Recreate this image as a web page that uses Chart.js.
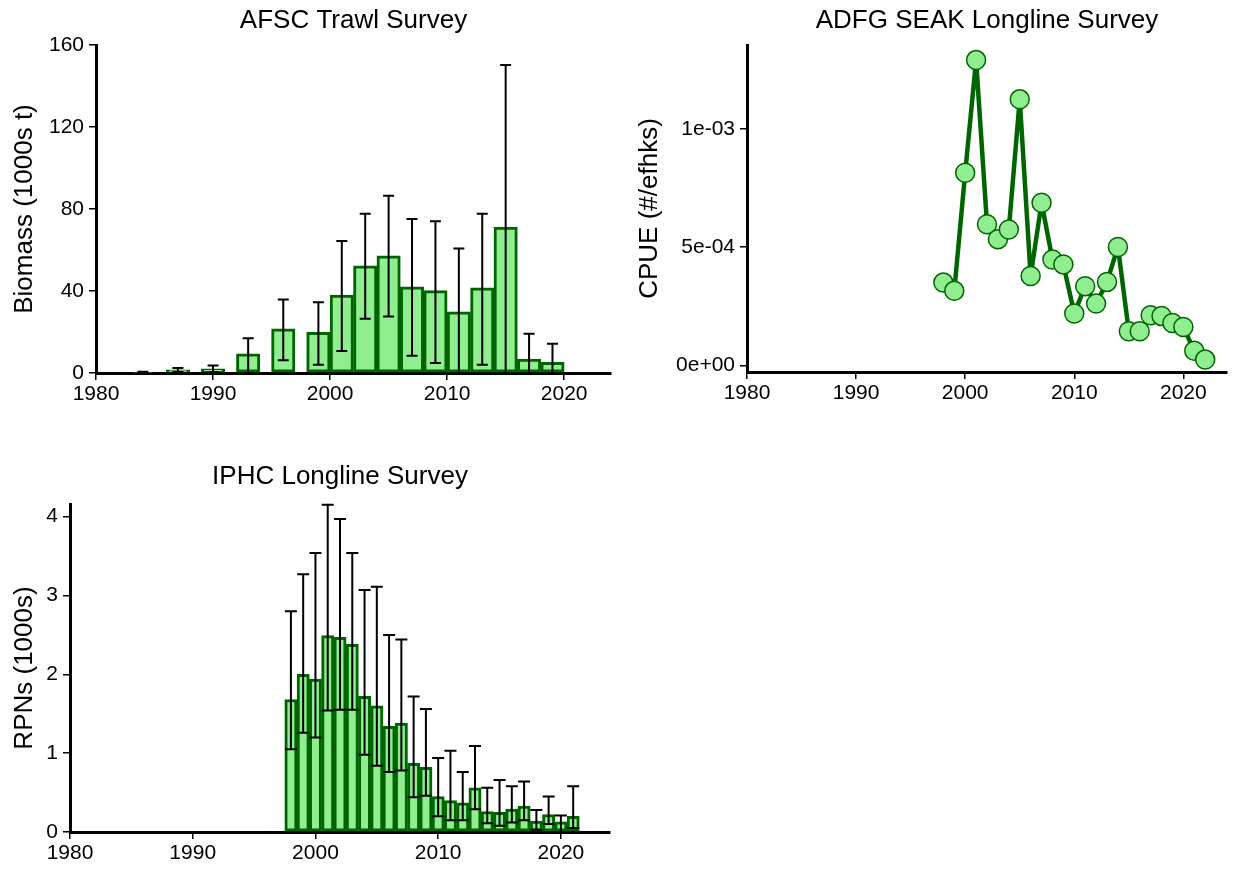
<!DOCTYPE html>
<html>
<head>
<meta charset="utf-8">
<script src="https://cdn.jsdelivr.net/npm/chart.js@4.4.0/dist/chart.umd.min.js"></script>
<style>
  html, body { margin: 0; padding: 0; background: #fff; }
  body { width: 1238px; height: 869px; position: relative; overflow: hidden; }
  canvas { position: absolute; }
</style>
</head>
<body>
<canvas id="afsc" width="625" height="420" style="left:0;top:0"></canvas>
<canvas id="adfg" width="613" height="420" style="left:625px;top:0"></canvas>
<canvas id="iphc" width="625" height="429" style="left:0;top:440px"></canvas>
<script>
// AFSC trawl survey biomass (1000s t) with error bar ends
const afscYears = [1984, 1987, 1990, 1993, 1996, 1999, 2001, 2003, 2005, 2007, 2009, 2011, 2013, 2015, 2017, 2019];
const afscBiomass = [0.5, 1.5, 2.0, 9.3, 21.5, 19.9, 38.0, 52.3, 57.2, 42.0, 40.2, 29.9, 41.5, 71.2, 6.8, 5.2];
const afscUpper = [0.6, 2.5, 3.7, 17.0, 35.9, 34.5, 64.4, 77.7, 86.5, 75.1, 74.0, 60.7, 77.7, 150.2, 19.2, 14.3];
const afscLower = [0.4, 0.5, 0.3, -2.0, 6.2, 4.0, 10.7, 26.5, 27.6, 8.4, 4.9, -1.0, 4.0, -8.0, -5.0, -4.0];

// ADFG SEAK longline CPUE
const adfgYears = [1998, 1999, 2000, 2001, 2002, 2003, 2004, 2005, 2006, 2007, 2008, 2009, 2010,
  2011, 2012, 2013, 2014, 2015, 2016, 2017, 2018, 2019, 2020, 2021, 2022];
const adfgCpue = [3.50e-4, 3.15e-4, 8.15e-4, 1.292e-3, 5.97e-4, 5.34e-4, 5.75e-4, 1.126e-3, 3.78e-4,
  6.88e-4, 4.48e-4, 4.27e-4, 2.19e-4, 3.35e-4, 2.61e-4, 3.53e-4, 5.01e-4, 1.44e-4, 1.44e-4,
  2.12e-4, 2.09e-4, 1.79e-4, 1.62e-4, 0.61e-4, 0.24e-4];
const adfgTicks = [0, 5e-4, 1e-3];
const adfgTickLabels = ["0e+00", "5e-04", "1e-03"];

// IPHC longline RPNs (1000s)
const iphcYears = [1998, 1999, 2000, 2001, 2002, 2003, 2004, 2005, 2006, 2007, 2008, 2009,
  2010, 2011, 2012, 2013, 2014, 2015, 2016, 2017, 2018, 2019, 2020, 2021];
const iphcRpn = [1.68, 2.00, 1.94, 2.49, 2.47, 2.38, 1.72, 1.60, 1.34, 1.38, 0.87, 0.82,
  0.45, 0.40, 0.37, 0.56, 0.26, 0.25, 0.29, 0.33, 0.14, 0.22, 0.13, 0.20];
const iphcUpper = [2.80, 3.27, 3.54, 4.15, 3.97, 3.54, 3.07, 3.11, 2.50, 2.44, 1.72, 1.56,
  0.94, 1.03, 0.76, 1.09, 0.56, 0.66, 0.58, 0.64, 0.28, 0.45, 0.21, 0.58];
const iphcLower = [1.05, 1.26, 1.20, 1.54, 1.55, 1.55, 0.98, 0.84, 0.76, 0.78, 0.44, 0.46,
  0.20, 0.15, 0.15, 0.29, 0.11, 0.08, 0.12, 0.15, 0.03, 0.10, -0.07, 0.05];

const FONT = "'Liberation Sans', Arial, Helvetica, sans-serif";
const FILL = "#90EE90";
const EDGE = "#006400";

// draw error bars on top of the bars, through the chart scales
function errorBars(xs, lo, hi, cap) {
  return {
    id: "errorBars",
    afterDatasetsDraw(chart) {
      const { ctx, chartArea, scales } = chart;
      ctx.save();
      ctx.beginPath();
      ctx.rect(chartArea.left, chartArea.top - 10, chartArea.width, chartArea.height + 10);
      ctx.clip();
      ctx.strokeStyle = "#000";
      ctx.lineWidth = 2;
      xs.forEach((yr, i) => {
        const px = scales.x.getPixelForValue(yr);
        const top = scales.y.getPixelForValue(hi[i]);
        const bot = scales.y.getPixelForValue(lo[i]);
        ctx.beginPath();
        ctx.moveTo(px, top); ctx.lineTo(px, bot);
        ctx.moveTo(px - cap, top); ctx.lineTo(px + cap, top);
        ctx.moveTo(px - cap, bot); ctx.lineTo(px + cap, bot);
        ctx.stroke();
      });
      ctx.restore();
    }
  };
}

const tickGrid = { display: true, drawOnChartArea: false, drawTicks: true, tickLength: 7, color: "#000", lineWidth: 1.5, offset: false };
const axisBorder = { display: true, color: "#000", width: 3 };

function xAxis(height) {
  return {
    type: "linear", min: 1980, max: 2024, offset: false,
    grid: tickGrid, border: axisBorder,
    ticks: { stepSize: 10, includeBounds: false, maxRotation: 0, color: "#000", padding: 2,
      font: { family: FONT, size: 21 }, callback: v => String(v) },
    afterFit: s => { s.height = height; }
  };
}

function yAxis(width, min, max, step, label) {
  return {
    type: "linear", min: min, max: max,
    grid: tickGrid, border: axisBorder,
    ticks: { stepSize: step, includeBounds: false, color: "#000", padding: 5,
      font: { family: FONT, size: 21 } },
    title: { display: true, text: label, color: "#000", font: { family: FONT, size: 26 }, padding: { top: 9.4, bottom: 0 } },
    afterFit: s => { s.width = width; }
  };
}

function titleOpts(text, top, bottom) {
  return { display: true, text: text, color: "#000", fullSize: false,
    font: { family: FONT, size: 26, weight: "normal" }, padding: { top: top, bottom: bottom } };
}

function barSet(xs, ys) {
  return {
    data: xs.map((x, i) => ({ x: x, y: ys[i] })),
    backgroundColor: FILL, borderColor: EDGE, borderWidth: 3, borderSkipped: false,
    barPercentage: 1, categoryPercentage: 1
  };
}

// AFSC trawl
new Chart(document.getElementById("afsc"), {
  type: "bar",
  data: { datasets: [barSet(afscYears, afscBiomass)] },
  options: {
    responsive: false, animation: false,
    layout: { padding: { left: 0, right: 14, top: 0, bottom: 0 } },
    plugins: { legend: { display: false }, tooltip: { enabled: false },
      title: titleOpts("AFSC Trawl Survey", 5, 8.8) },
    scales: { x: xAxis(47), y: yAxis(96, 0, 160, 40, "Biomass (1000s t)") }
  },
  plugins: [errorBars(afscYears, afscLower, afscUpper, 5.5)]
});

// ADFG longline
const adfgY = yAxis(122, -2.85e-5, 1.356e-3, 5e-4, "CPUE (#/efhks)");
adfgY.afterBuildTicks = s => { s.ticks = adfgTicks.map(v => ({ value: v })); };
adfgY.ticks.callback = v => adfgTickLabels[adfgTicks.indexOf(v)];
new Chart(document.getElementById("adfg"), {
  type: "line",
  data: {
    datasets: [{
      data: adfgYears.map((x, i) => ({ x: x, y: adfgCpue[i] })),
      borderColor: EDGE, borderWidth: 4.5, tension: 0, borderJoinStyle: "round",
      pointRadius: 9.5, pointBorderWidth: 1.5,
      pointBackgroundColor: FILL, pointBorderColor: EDGE
    }]
  },
  options: {
    responsive: false, animation: false, clip: false,
    layout: { padding: { left: 0, right: 2, top: 0, bottom: 0 } },
    plugins: { legend: { display: false }, tooltip: { enabled: false },
      title: titleOpts("ADFG SEAK Longline Survey", 5, 8.8) },
    scales: { x: xAxis(48), y: adfgY }
  }
});

// IPHC longline
new Chart(document.getElementById("iphc"), {
  type: "bar",
  data: { datasets: [barSet(iphcYears, iphcRpn)] },
  options: {
    responsive: false, animation: false,
    layout: { padding: { left: 0, right: 15, top: 0, bottom: 0 } },
    plugins: { legend: { display: false }, tooltip: { enabled: false },
      title: titleOpts("IPHC Longline Survey", 21, 11.8) },
    scales: { x: xAxis(37), y: yAxis(70, 0, 4.16, 1, "RPNs (1000s)") }
  },
  plugins: [errorBars(iphcYears, iphcLower, iphcUpper, 6)]
});
</script>
</body>
</html>
